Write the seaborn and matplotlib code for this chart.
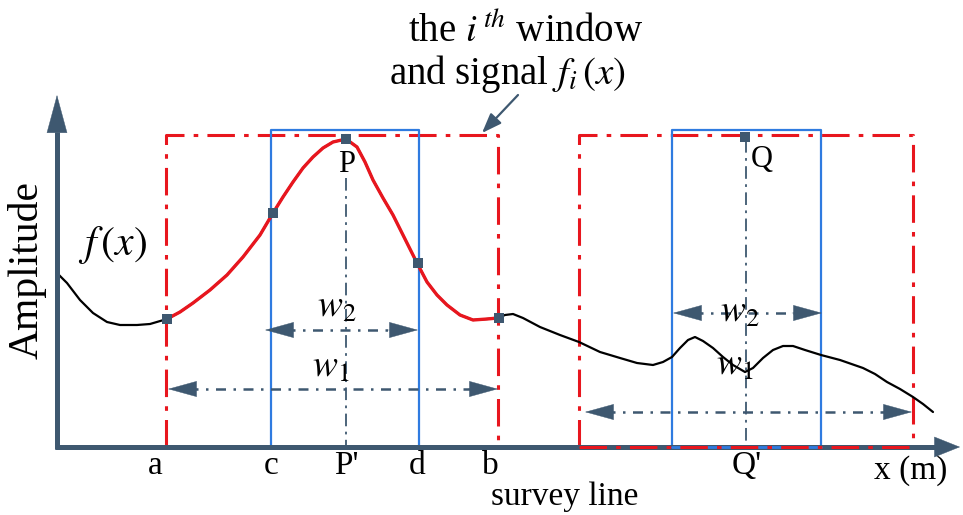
import numpy as np
import pandas as pd
import seaborn as sns
import matplotlib.pyplot as plt

# signal f(x) (pixel space, y grows downward)
sig_x = [57, 67, 80, 93, 107, 120, 137, 150, 167, 180, 193, 210, 227, 243, 260, 273,
         283, 293, 303, 313, 323, 333, 346, 357, 365, 373, 383, 393, 403, 417, 427,
         437, 447, 460, 473, 487, 498, 505, 513, 523, 540, 560, 579, 600, 620, 637,
         653, 663, 672, 680, 688, 695, 703, 713, 723, 733, 745, 753, 763, 773, 783,
         793, 805, 821, 840, 863, 875, 887, 900, 913, 923, 933]
sig_y = [273, 283, 300, 313, 322, 325, 325, 324, 319, 312, 303, 290, 275, 257, 235, 213,
         197, 182, 168, 157, 148, 142, 139, 147, 162, 180, 198, 215, 235, 263, 282,
         295, 305, 315, 320, 319, 318, 315, 314, 318, 327, 335, 342, 352, 358, 363,
         365, 362, 357, 348, 340, 337, 341, 348, 357, 365, 372, 368, 358, 350, 346,
         346, 350, 355, 360, 368, 374, 382, 389, 397, 404, 412]

# windows: outer (w1, red) and inner (w2, blue) bounds, centre positions
outer_win = [(166, 498), (579, 913)]
inner_win = [(271, 419), (672, 821)]
centres = [346, 746]
key_names = ["a", "c", "P", "d", "b", "Q"]
key_x = [167, 273, 346, 418, 499, 745]
key_y = [319, 213, 139, 263, 318, 137]
tick_names = ["a", "c", "P'", "d", "b", "Q'"]
tick_x = [155, 271, 346, 417, 490, 747]

RED = "#e8161e"
BLUE = "#2f7be0"
SLATE = "#3e5870"
AX_Y = 447

sns.set_theme(style="white")
plt.rcParams["font.family"] = ["Liberation Serif", "DejaVu Serif"]
plt.rcParams["mathtext.fontset"] = "stix"
plt.rcParams["text.color"] = "black"

fig = plt.figure(figsize=(9.63, 5.15), dpi=100)
ax = fig.add_axes([0, 0, 1, 1])

red_ls = (0, (9, 3, 1.5, 3))
dim_ls = (0, (4, 3, 1, 3))


def head(tip, tail, hl, hw, lw=0.3):
    ax.annotate("", xy=tip, xytext=tail,
                arrowprops=dict(arrowstyle=f"-|>,head_length={hl},head_width={hw}",
                                mutation_scale=1, color=SLATE, lw=lw,
                                shrinkA=0, shrinkB=0))


# windows
for k, ((x0, x1), (c0, c1)) in enumerate(zip(outer_win, inner_win)):
    ax.plot([x0, x0, x1, x1], [AX_Y, 135, 135, AX_Y], color=RED, lw=2.2,
            ls=red_ls, zorder=2)
    ax.plot([c0, c0, c1, c1], [AX_Y, 130, 130, AX_Y], color=BLUE, lw=1.6, zorder=2)
    if k == 1:
        ax.plot([c0, c1], [AX_Y, AX_Y], color=BLUE, lw=2.0, zorder=6)
        ax.plot([x0, x1], [AX_Y, AX_Y], color=RED, lw=2.2, ls=red_ls, zorder=7)

# centre lines
ax.plot([centres[0]] * 2, [178, AX_Y], color=SLATE, lw=1.3, ls=(0, (7, 3, 1.5, 3)), zorder=2)
ax.plot([centres[1]] * 2, [140, AX_Y], color=SLATE, lw=1.3, ls=(0, (7, 3, 1.5, 3)), zorder=2)

# signal
sig = pd.DataFrame({"x": sig_x, "y": sig_y})
sns.lineplot(data=sig, x="x", y="y", color="black", lw=1.6, sort=False,
             estimator=None, ax=ax, zorder=3, solid_joinstyle="round")
seg = sig[(sig.x >= outer_win[0][0]) & (sig.x <= outer_win[0][1])]
sns.lineplot(data=seg, x="x", y="y", color=RED, lw=2.4, sort=False,
             estimator=None, ax=ax, zorder=4, solid_joinstyle="round")
sns.scatterplot(x=key_x, y=key_y, marker="s", s=45, color=SLATE, edgecolor=SLATE,
                lw=0, ax=ax, zorder=5)
ax.set_xlim(0, 963)
ax.set_ylim(515, 0)
ax.set_axis_off()

# axes with arrow heads
ax.plot([57, 57], [AX_Y + 2, 132], color=SLATE, lw=3.6, solid_capstyle="butt", zorder=5)
head((57, 95), (57, 140), 26.6, 7.2)
ax.plot([55, 935], [AX_Y, AX_Y], color=SLATE, lw=3.6, solid_capstyle="butt", zorder=5)
head((960, AX_Y), (925, AX_Y), 18, 7.2)

# dimension arrows
dims = [(265, 418, 330), (168, 498, 389), (673, 822, 313), (585, 912, 412)]
for x0, x1, yy in dims:
    ax.plot([x0 + 20, x1 - 20], [yy, yy], color=SLATE, lw=1.8, ls=dim_ls, zorder=3)
    head((x0, yy), (x0 + 30, yy), 20, 5.5)
    head((x1, yy), (x1 - 30, yy), 20, 5.5)

fs = 26
ax.text(337, 308, "$w_2$", fontsize=27, ha="center", va="center", zorder=8)
ax.text(331, 368, "$w_1$", fontsize=27, ha="center", va="center", zorder=8)
ax.text(740, 313, "$w_2$", fontsize=27, ha="center", va="center", zorder=8)
ax.text(735, 366, "$w_1$", fontsize=27, ha="center", va="center", zorder=8)

ax.text(347, 165, "P", fontsize=fs - 4, ha="center", va="center")
ax.text(762, 160, "Q", fontsize=fs - 4, ha="center", va="center")
ax.text(112, 245, "$f\\,(x)$", fontsize=30, ha="center", va="center")
ax.text(27, 270, "Amplitude", fontsize=30, rotation=90, ha="center", va="center")

for name, tx in zip(tick_names, tick_x):
    ax.text(tx, 474, name, fontsize=fs - 2, ha="center", va="baseline")
ax.text(911, 479, "x (m)", fontsize=fs - 2, ha="center", va="baseline")
ax.text(565, 505, "survey line", fontsize=fs - 2, ha="center", va="baseline")

ax.text(526, 32, "the $i^{\\,th}$ window", fontsize=28, ha="center", va="center")
ax.text(507, 74, "and signal $f_i\\,(x)$", fontsize=28, ha="center", va="center")
ax.annotate("", xy=(482, 133), xytext=(518, 95),
            arrowprops=dict(arrowstyle="-|>,head_length=12,head_width=4.5",
                            mutation_scale=1, color=SLATE, lw=1.6,
                            shrinkA=0, shrinkB=0))

fig.savefig("out.png", dpi=100)
